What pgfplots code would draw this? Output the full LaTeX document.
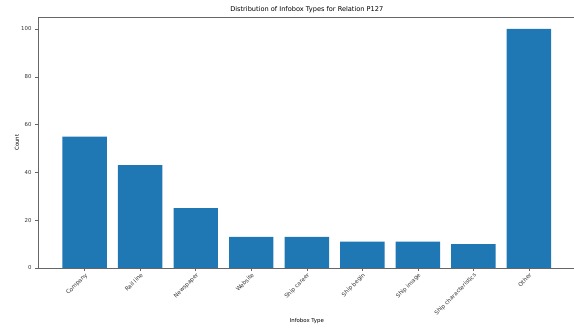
\documentclass[border=0pt]{standalone}
\usepackage{pgfplots}
\pgfplotsset{compat=1.18}
\usepackage{fontspec}
\setmainfont{DejaVu Sans}
\definecolor{mplblue}{HTML}{1F77B4}
\begin{document}
\begin{tikzpicture}
\begin{axis}[
  at={(0pt,0pt)}, anchor=south west,
  scale only axis,
  width=537.6pt, height=251pt,
  xmin=-0.84, xmax=8.84,
  ymin=0, ymax=105,
  ytick={0,20,40,60,80,100},
  xtick={0,1,2,3,4,5,6,7,8},
  xticklabels={Company,Rail line,Newspaper,Website,Ship career,Ship begin,Ship image,Ship characteristics,Other},
  x tick label style={rotate=45, anchor=north east, font=\fontsize{5.7}{6}\selectfont, text=black!80, inner sep=1pt},
  y tick label style={font=\fontsize{5.4}{6}\selectfont, text=black!80},
  /pgf/number format/assume math mode=true,
  tick align=outside,
  major tick length=3pt,
  xtick pos=bottom, ytick pos=left,
  tick style={black!60, line width=0.5pt},
  axis line style={black!60, line width=0.7pt},
  title={Distribution of Infobox Types for Relation P127},
  title style={font=\fontsize{6.6}{7}\selectfont, at={(axis description cs:0.5,1)}, anchor=center, yshift=1pt},
  xlabel={Infobox Type},
  ylabel={Count},
  xlabel style={font=\fontsize{5.4}{6}\selectfont, at={(axis description cs:0.5,0)}, anchor=center, yshift=-53pt},
  ylabel style={font=\fontsize{5.4}{6}\selectfont, at={(axis description cs:0,0.5)}, anchor=center, yshift=21pt},
  ybar, bar width=0.8,
]
\addplot[fill=mplblue, draw=none] coordinates {
  (0,55) (1,43) (2,25) (3,13) (4,13) (5,11) (6,11) (7,10) (8,100)
};
\end{axis}
\pgfresetboundingbox
\useasboundingbox (-38pt,-61pt) rectangle (536pt,268pt);
\end{tikzpicture}
\end{document}
